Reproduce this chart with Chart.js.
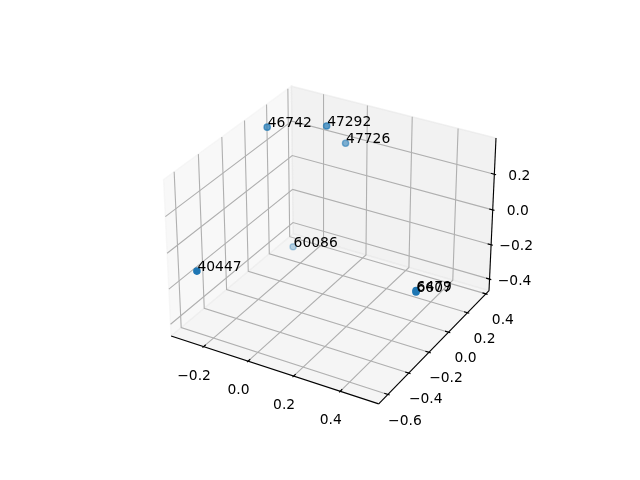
<!DOCTYPE html>
<html>
<head>
<meta charset="utf-8">
<style>
  html, body { margin: 0; background: #fff; }
  canvas { display: block; }
</style>
<script src="https://cdn.jsdelivr.net/npm/chart.js@4/dist/chart.umd.js"></script>
</head>
<body>
<canvas id="scatter3d" width="640" height="480"></canvas>
<script>
// values
const pointLabels = ['46742', '47292', '47726', '60086', '40447', '6479', '6607'];
const pointX = [-0.254, -0.056, -0.026, -0.19, -0.238, 0.493, 0.493];
const pointY = [0.016, 0.16, 0.278, 0.111, -0.648, -0.182, -0.182];
const pointZ = [0.385, 0.39, 0.25, -0.321, -0.077, -0.157, -0.164];

const xTicks = [-0.2, 0, 0.2, 0.4];
const yTicks = [-0.6, -0.4, -0.2, 0, 0.2, 0.4];
const zTicks = [-0.4, -0.2, 0, 0.2];

const xLim = [-0.349, 0.562];
const yLim = [-0.6855, 0.4345];
const zLim = [-0.4685, 0.3985];

// ========== 3D -> 2D (elev 30, azim -60, box 4:4:3) ==========
const boxScale = 1.8294640721620434 * 25 / 24 / Math.sqrt(41);
const box = [4 * boxScale, 4 * boxScale, 3 * boxScale];
const eyeDist = 10;
const rightVec = [0.8660254, 0.5, 0];
const upVec = [-0.25, 0.4330127, 0.8660254];
const eyeVec = [0.4330127, -0.75, 0.5];

function toBox(x, y, z) {
  return [
    ((x - xLim[0]) / (xLim[1] - xLim[0]) - 0.5) * box[0],
    ((y - yLim[0]) / (yLim[1] - yLim[0]) - 0.5) * box[1],
    ((z - zLim[0]) / (zLim[1] - zLim[0]) - 0.5) * box[2]
  ];
}
function dot(a, b) { return a[0] * b[0] + a[1] * b[1] + a[2] * b[2]; }
function depth(x, y, z) { return dot(toBox(x, y, z), eyeVec); }
function project(x, y, z) {
  const p = toBox(x, y, z);
  const d = eyeDist - dot(p, eyeVec);
  return { x: dot(p, rightVec) / d, y: dot(p, upVec) / d };
}
function path(pts) { return pts.map(p => project(p[0], p[1], p[2])); }

const [x0, x1] = xLim, [y0, y1] = yLim, [z0, z1] = zLim;
const xTickLen = (x1 - x0) / 12, yTickLen = (y1 - y0) / 12;

// ========== datasets, first pushed is drawn first ==========
const layers = [];
function addPane(pts, rgba) {
  layers.push({
    data: path(pts), showLine: true, pointRadius: 0, fill: 'shape',
    backgroundColor: rgba, borderColor: rgba, borderWidth: 1.39
  });
}
function addLine(pts, color) {
  layers.push({
    data: path(pts), showLine: true, pointRadius: 0, fill: false,
    borderColor: color, borderWidth: 1.11
  });
}

addPane([[x0, y0, z0], [x0, y1, z0], [x0, y1, z1], [x0, y0, z1], [x0, y0, z0]], 'rgba(242,242,242,0.5)');
addPane([[x0, y1, z0], [x1, y1, z0], [x1, y1, z1], [x0, y1, z1], [x0, y1, z0]], 'rgba(230,230,230,0.5)');
addPane([[x0, y0, z0], [x1, y0, z0], [x1, y1, z0], [x0, y1, z0], [x0, y0, z0]], 'rgba(236,236,236,0.5)');

const gridColor = 'rgb(176,176,176)';
xTicks.forEach(v => addLine([[v, y0, z0], [v, y1, z0], [v, y1, z1]], gridColor));
yTicks.forEach(v => addLine([[x1, v, z0], [x0, v, z0], [x0, v, z1]], gridColor));
zTicks.forEach(v => addLine([[x0, y0, v], [x0, y1, v], [x1, y1, v]], gridColor));

addLine([[x0, y0, z0], [x1, y0, z0]], '#000');
addLine([[x1, y0, z0], [x1, y1, z0]], '#000');
addLine([[x1, y1, z0], [x1, y1, z1]], '#000');

xTicks.forEach(v => addLine([[v, y0 + 0.2 * yTickLen, z0], [v, y0 - 0.1 * yTickLen, z0]], '#000'));
yTicks.forEach(v => addLine([[x1 - 0.2 * xTickLen, v, z0], [x1 + 0.1 * xTickLen, v, z0]], '#000'));
zTicks.forEach(v => addLine([[x1 - 0.2 * xTickLen, y1, v], [x1 + 0.1 * xTickLen, y1, v]], '#000'));

// depth shading of the points, like mplot3d
const depths = pointX.map((x, i) => depth(x, pointY[i], pointZ[i]));
const dMin = Math.min(...depths), dMax = Math.max(...depths);
const pointColors = depths.map(d => {
  const a = 0.3 + 0.7 * (d - dMin) / (dMax - dMin);
  return 'rgba(31,119,180,' + a.toFixed(3) + ')';
});
layers.push({
  data: pointX.map((x, i) => project(x, pointY[i], pointZ[i])),
  showLine: false,
  pointRadius: 3.1,
  pointBorderWidth: 1.39,
  pointBackgroundColor: pointColors,
  pointBorderColor: pointColors
});

function fmt(v) {
  return (v < 0 ? '\u2212' : '') + Math.abs(v).toFixed(1);
}

const textPlugin = {
  id: 'textPlugin',
  afterDatasetsDraw(chart) {
    const { ctx, scales } = chart;
    const px = p => ({ x: scales.x.getPixelForValue(p.x), y: scales.y.getPixelForValue(p.y) });
    ctx.save();
    ctx.fillStyle = '#000';
    ctx.font = '13.89px "DejaVu Sans"';

    // tick labels
    ctx.textAlign = 'center';
    ctx.textBaseline = 'middle';
    xTicks.forEach(v => {
      const p = px(project(v, y0, z0));
      ctx.fillText(fmt(v), p.x - 9.5, p.y + 29.5);
    });
    yTicks.forEach(v => {
      const p = px(project(x1, v, z0));
      ctx.fillText(fmt(v), p.x + 17, p.y + 26.5);
    });
    zTicks.forEach(v => {
      const p = px(project(x1, y1, v));
      ctx.fillText(fmt(v), p.x + 25, p.y + 2);
    });

    // point labels
    ctx.textAlign = 'left';
    ctx.textBaseline = 'alphabetic';
    pointLabels.forEach((t, i) => {
      const p = px(project(pointX[i], pointY[i], pointZ[i]));
      ctx.fillText(t, p.x + 0.5, p.y);
    });
    ctx.restore();
  }
};

new Chart(document.getElementById('scatter3d'), {
  type: 'scatter',
  data: { datasets: layers.slice().reverse() },
  plugins: [textPlugin],
  options: {
    responsive: false,
    animation: false,
    layout: { padding: { left: 143.2, right: 127.2, top: 57.6, bottom: 52.8 } },
    plugins: { legend: { display: false }, tooltip: { enabled: false } },
    scales: {
      x: { display: false, min: -0.095, max: 0.09 },
      y: { display: false, min: -0.095, max: 0.09 }
    }
  }
});
</script>
</body>
</html>
